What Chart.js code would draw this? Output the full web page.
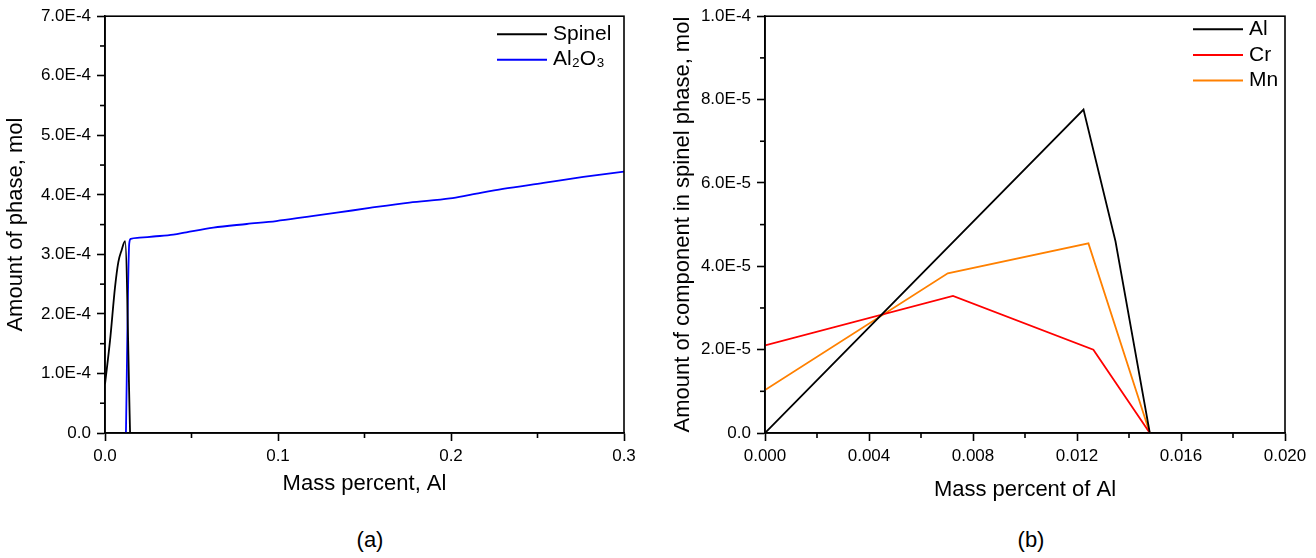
<!DOCTYPE html>
<html>
<head>
<meta charset="utf-8">
<script src="https://cdn.jsdelivr.net/npm/chart.js@4.4.1/dist/chart.umd.min.js"></script>
<style>
  body { margin: 0; background: #fff; width: 1316px; height: 558px; position: relative; overflow: hidden;
         font-family: 'Liberation Sans', Arial, sans-serif; }
  .box { position: absolute; top: 0; height: 520px; }
  #boxA { left: 0; width: 655px; }
  #boxB { left: 655px; width: 661px; }
  .cap { position: absolute; top: 527px; font-size: 22px; color: #000; transform: translateX(-50%); }
</style>
</head>
<body>
<div class="box" id="boxA"><canvas id="chartA"></canvas></div>
<div class="box" id="boxB"><canvas id="chartB"></canvas></div>
<div class="cap" style="left:370px">(a)</div>
<div class="cap" style="left:1031px">(b)</div>
<script>
const FONT = "'Liberation Sans', Arial, sans-serif";

// (a) amount of phase vs mass percent Al
const spinelX = [0, 0.0029, 0.0058, 0.0077, 0.0096, 0.0116, 0.0145];
const spinelY = [0.82e-4, 1.55e-4, 2.45e-4, 2.87e-4, 3.07e-4, 3.22e-4, 0];
const al2o3X = [0.0121, 0.0140, 0.0149, 0.020, 0.028, 0.0395, 0.047, 0.0626, 0.082, 0.099,
                0.1166, 0.134, 0.153, 0.176, 0.1994, 0.211, 0.230, 0.2535, 0.2765, 0.3];
const al2o3Y = [0, 3.18e-4, 3.26e-4, 3.28e-4, 3.30e-4, 3.33e-4, 3.37e-4, 3.45e-4, 3.51e-4, 3.56e-4,
                3.63e-4, 3.70e-4, 3.78e-4, 3.87e-4, 3.94e-4, 4.0e-4, 4.1e-4, 4.2e-4, 4.3e-4, 4.39e-4];
const xLabelsA = ['0.0', '0.1', '0.2', '0.3'];
const yLabelsA = ['0.0', '1.0E-4', '2.0E-4', '3.0E-4', '4.0E-4', '5.0E-4', '6.0E-4', '7.0E-4'];

// (b) amount of component in spinel phase
const alX = [0, 0.01225, 0.01348, 0.0148];
const alY = [0, 7.76e-5, 4.6e-5, 0];
const crX = [0, 0.00723, 0.01263, 0.0148];
const crY = [2.1e-5, 3.29e-5, 2.0e-5, 0];
const mnX = [0, 0.00703, 0.01244, 0.0148];
const mnY = [1.03e-5, 3.83e-5, 4.55e-5, 0];
const xLabelsB = ['0.000', '0.004', '0.008', '0.012', '0.016', '0.020'];
const yLabelsB = ['0.0', '2.0E-5', '4.0E-5', '6.0E-5', '8.0E-5', '1.0E-4'];

Chart.defaults.color = '#000';
Chart.defaults.font.family = FONT;

const pts = (xs, ys) => xs.map((x, i) => ({ x: x, y: ys[i] }));
const line = (label, xs, ys, color, smooth) => ({
  label: label, data: pts(xs, ys), borderColor: color, backgroundColor: color,
  borderWidth: 1.8, pointRadius: 0, fill: false,
  tension: smooth ? 0.4 : 0, cubicInterpolationMode: smooth ? 'monotone' : 'default'
});

// frame round the plot, minor ticks half way between the major ones, and an inside legend
const framePlugin = {
  id: 'frame',
  afterDatasetsDraw(chart, args, opts) {
    const { ctx, chartArea: a } = chart;
    ctx.save();
    ctx.strokeStyle = '#000';
    ctx.lineWidth = 1.6;
    ctx.strokeRect(a.left, a.top, a.right - a.left, a.bottom - a.top);
    ['x', 'y'].forEach(id => {
      const s = chart.scales[id];
      for (let i = 0; i < s.ticks.length - 1; i++) {
        const p = s.getPixelForValue((s.ticks[i].value + s.ticks[i + 1].value) / 2);
        ctx.beginPath();
        if (id === 'x') { ctx.moveTo(p, a.bottom); ctx.lineTo(p, a.bottom + 5); }
        else { ctx.moveTo(a.left, p); ctx.lineTo(a.left - 5, p); }
        ctx.stroke();
      }
    });
    // legend
    const lg = opts.legend;
    ctx.font = '21px ' + FONT;
    ctx.textBaseline = 'middle';
    ctx.fillStyle = '#000';
    chart.data.datasets.forEach((d, i) => {
      const y = a.top + lg.top + i * lg.gap;
      ctx.strokeStyle = d.borderColor;
      ctx.lineWidth = 2;
      ctx.beginPath();
      ctx.moveTo(a.right - lg.right, y);
      ctx.lineTo(a.right - lg.right + 50, y);
      ctx.stroke();
      ctx.fillText(d.label, a.right - lg.right + 56, y);
    });
    ctx.restore();
  }
};

function scales(o) {
  const tickFont = { family: FONT, size: 17 };
  const titleFont = { family: FONT, size: 22 };
  return {
    x: {
      type: 'linear', min: 0, max: o.xMax,
      ticks: { stepSize: o.xStep, autoSkip: false, maxRotation: 0, padding: 5, font: tickFont,
               callback: v => o.xLabels[Math.round(v / o.xStep)] },
      grid: { drawOnChartArea: false, tickLength: 8, tickColor: '#000', tickWidth: 1.6 },
      border: { color: '#000', width: 1.6 },
      title: { display: true, text: o.xTitle, font: titleFont, padding: { top: 0, bottom: o.xTitlePad } },
      afterFit: s => { s.height = 87; }
    },
    y: {
      min: 0, max: o.yMax,
      ticks: { stepSize: o.yStep, autoSkip: false, padding: 6, font: tickFont,
               callback: v => o.yLabels[Math.round(v / o.yStep)] },
      grid: { drawOnChartArea: false, tickLength: 8, tickColor: '#000', tickWidth: 1.6 },
      border: { color: '#000', width: 1.6 },
      title: { display: true, text: o.yTitle, font: titleFont, padding: { top: o.yTitlePad, bottom: 0 } },
      afterFit: s => { s.width = o.yWidth; }
    }
  };
}

new Chart(document.getElementById('chartA'), {
  type: 'line',
  data: {
    datasets: [
      line('Spinel', spinelX, spinelY, '#000000', true),
      line('Al\u2082O\u2083', al2o3X, al2o3Y, '#0000ff', true)
    ]
  },
  options: {
    responsive: true, maintainAspectRatio: false, animation: false,
    layout: { padding: { top: 15, right: 31, left: 0, bottom: 0 } },
    scales: scales({ xMax: 0.3, xStep: 0.1, xLabels: xLabelsA, xTitle: 'Mass percent, Al', xTitlePad: 23,
                     yMax: 7e-4, yStep: 1e-4, yLabels: yLabelsA, yTitle: 'Amount of phase, mol',
                     yTitlePad: 3, yWidth: 105 }),
    plugins: {
      legend: { display: false }, tooltip: { enabled: false },
      frame: { legend: { right: 127, top: 18, gap: 25.5 } }
    }
  },
  plugins: [framePlugin]
});

new Chart(document.getElementById('chartB'), {
  type: 'line',
  data: {
    datasets: [
      line('Al', alX, alY, '#000000', false),
      line('Cr', crX, crY, '#ff0000', false),
      line('Mn', mnX, mnY, '#ff8000', false)
    ]
  },
  options: {
    responsive: true, maintainAspectRatio: false, animation: false,
    layout: { padding: { top: 13, right: 31, left: 0, bottom: 0 } },
    scales: scales({ xMax: 0.02, xStep: 0.004, xLabels: xLabelsB, xTitle: 'Mass percent of Al', xTitlePad: 17,
                     yMax: 1e-4, yStep: 2e-5, yLabels: yLabelsB, yTitle: 'Amount of component in spinel phase, mol',
                     yTitlePad: 15, yWidth: 110 }),
    plugins: {
      legend: { display: false }, tooltip: { enabled: false },
      frame: { legend: { right: 92, top: 13, gap: 25.7 } }
    }
  },
  plugins: [framePlugin]
});
</script>
</body>
</html>
